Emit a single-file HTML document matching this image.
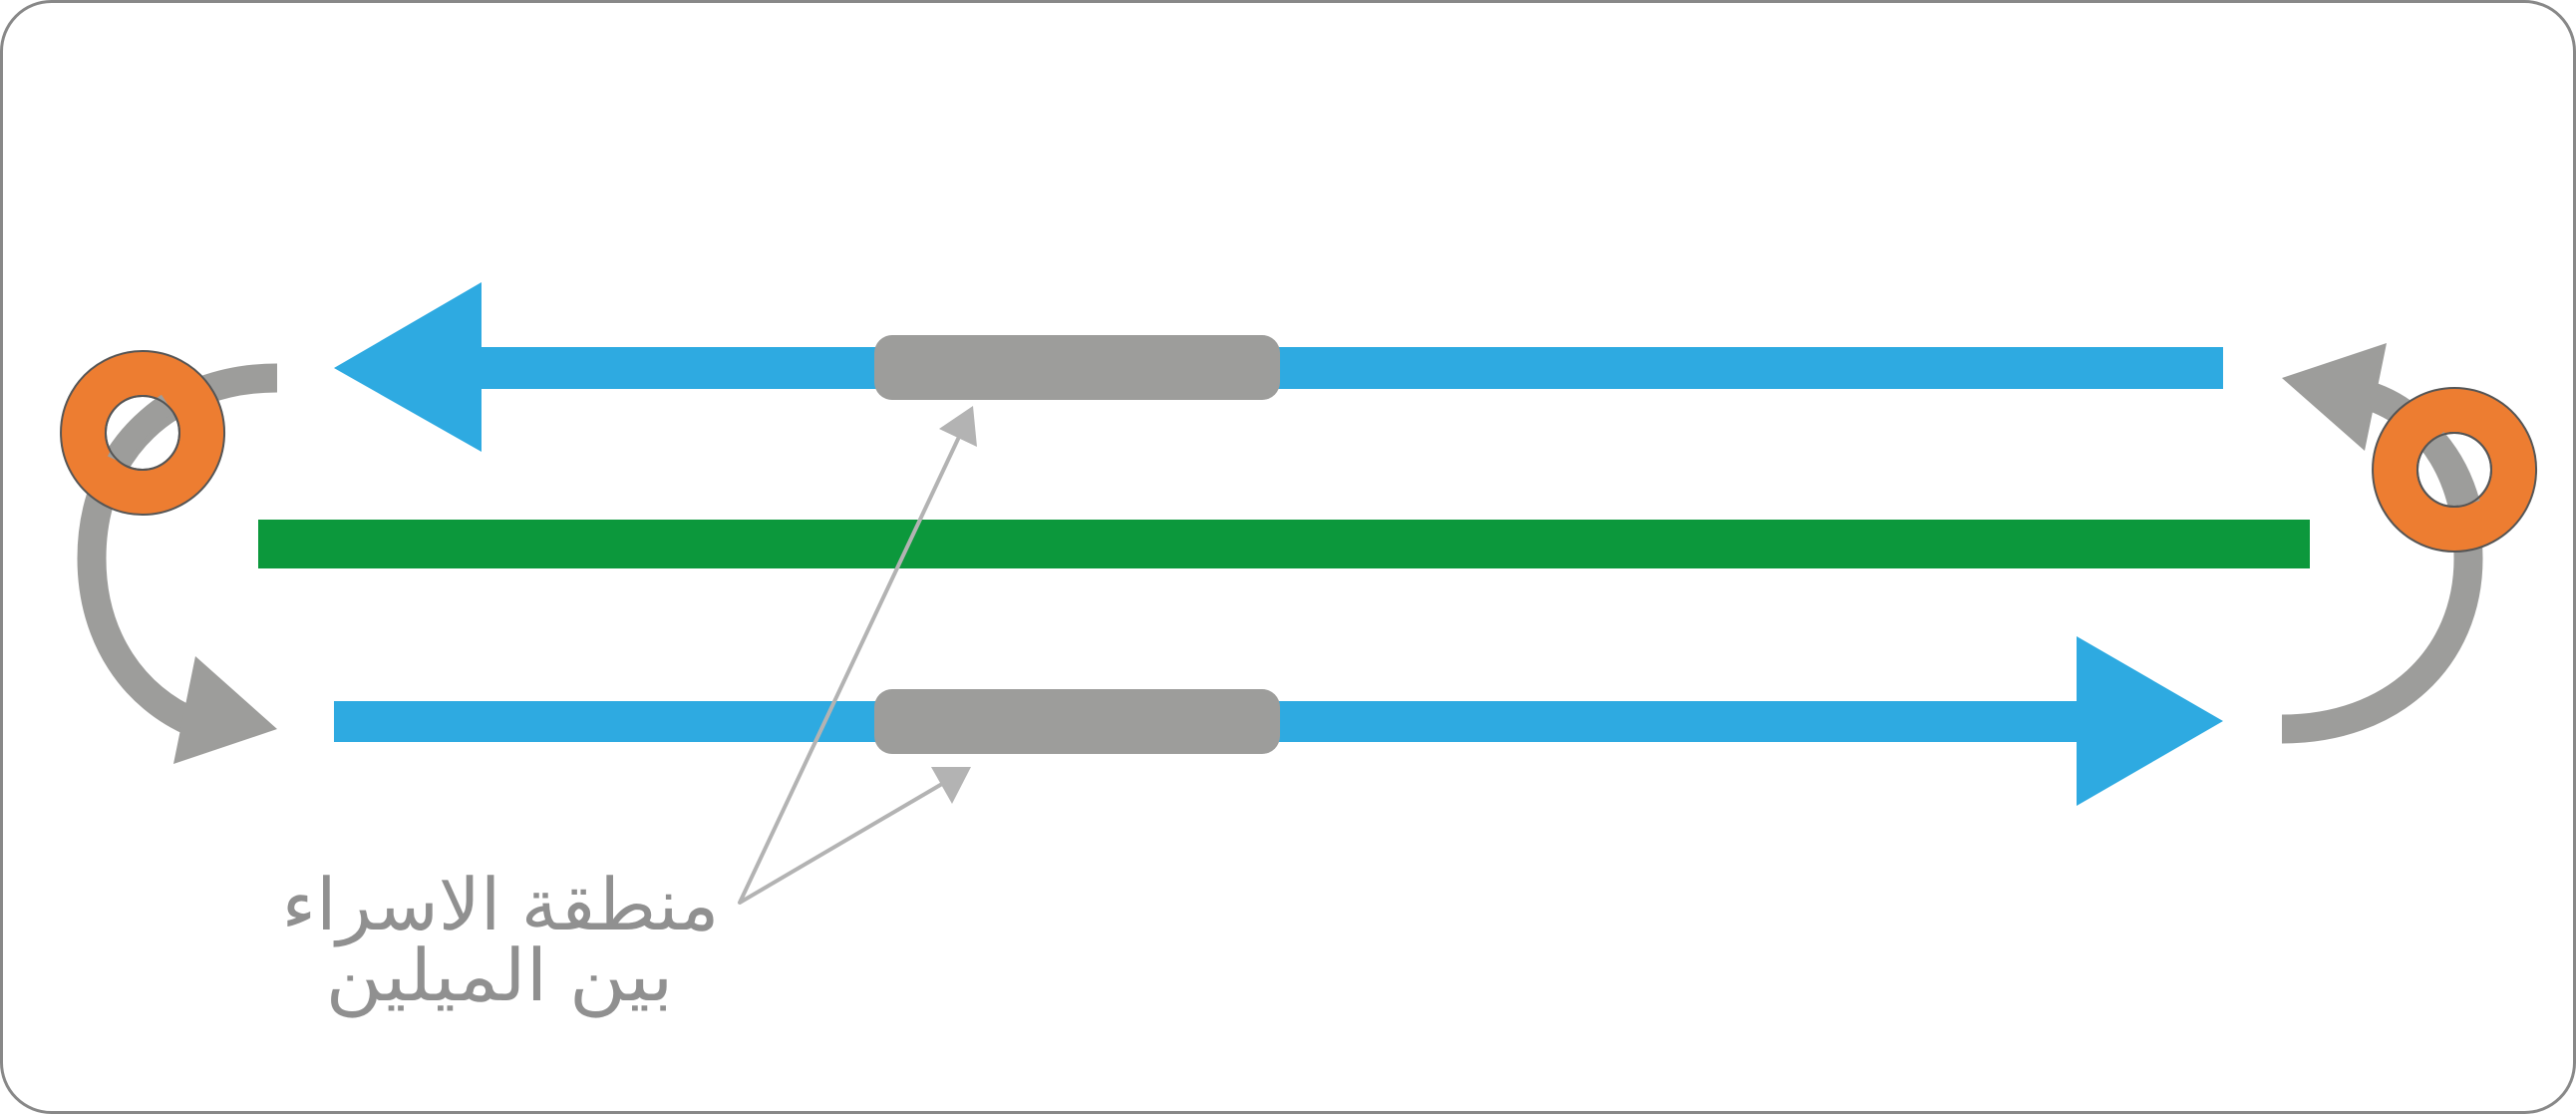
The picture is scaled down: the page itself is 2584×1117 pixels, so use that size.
<!DOCTYPE html>
<html><head><meta charset="utf-8"><style>
html,body{margin:0;padding:0;background:#fff;}
svg{display:block;}
</style></head><body>
<svg width="2584" height="1117" viewBox="0 0 2584 1117" xmlns="http://www.w3.org/2000/svg">
<rect x="1.5" y="1.5" width="2581" height="1114" rx="50" ry="50" fill="#fff" stroke="#888" stroke-width="3"/>
<!-- top blue arrow -->
<rect x="483" y="348" width="1747" height="42" fill="#2eaae1"/>
<polygon points="335,369 483,283 483,453" fill="#2eaae1"/>
<rect x="877" y="336" width="407" height="65" rx="18" fill="#9d9d9b"/>
<!-- green -->
<rect x="259" y="521" width="2058" height="49" fill="#0c983c"/>
<!-- bottom blue arrow -->
<rect x="335" y="703" width="1748" height="41" fill="#2eaae1"/>
<polygon points="2230,723 2083,638 2083,808" fill="#2eaae1"/>
<rect x="877" y="691" width="407" height="65" rx="18" fill="#9d9d9b"/>
<!-- left gray curve -->
<path d="M278,379 C170,379 92,450 92,560 C92,640 135,700 195,725" fill="none" stroke="#9d9d9b" stroke-width="29"/>
<polygon points="196,658 278,731 174,766" fill="#9d9d9b"/>
<!-- right gray curve -->
<path d="M2289,731 C2400,731 2476,660 2476,560 C2476,480 2440,420 2380,398" fill="none" stroke="#9d9d9b" stroke-width="29"/>
<polygon points="2394,344 2289,379 2372,452" fill="#9d9d9b"/>
<!-- rings -->
<path fill-rule="evenodd" d="M143,352 a82,82 0 1,0 0.1,0 Z M143,397 a37,37 0 1,1 -0.1,0 Z" fill="#ed7d31" stroke="#555" stroke-width="2"/>
<path fill="none" d="M118,462 C128,440 145,420 168,405" stroke="#9d9d9b" stroke-width="22"/>
<path fill-rule="evenodd" d="M2462,389 a82,82 0 1,0 0.1,0 Z M2462,434 a37,37 0 1,1 -0.1,0 Z" fill="#ed7d31" stroke="#555" stroke-width="2"/>
<path fill="none" d="M2443,440 C2460,460 2470,480 2477,505" stroke="#9d9d9b" stroke-width="22"/>
<circle cx="143" cy="434" r="37" fill="none" stroke="#555" stroke-width="2"/>
<circle cx="2462" cy="471" r="37" fill="none" stroke="#555" stroke-width="2"/>
<!-- pointers -->
<polyline points="962,438 742,905 945,786" fill="none" stroke="#b3b3b3" stroke-width="4" stroke-linejoin="round"/>
<polygon points="976,407 942,430 980,448" fill="#b3b3b3"/>
<polygon points="934,769 974,769 955,806" fill="#b3b3b3"/>
<!-- text -->
<text x="502" y="932" text-anchor="middle" direction="rtl" font-family="'Liberation Sans','DejaVu Sans',sans-serif" font-size="72" font-weight="200" fill="#909090" textLength="439" lengthAdjust="spacingAndGlyphs">منطقة الاسراء</text>
<text x="501" y="1003" text-anchor="middle" direction="rtl" font-family="'Liberation Sans','DejaVu Sans',sans-serif" font-size="72" font-weight="200" fill="#909090" textLength="349" lengthAdjust="spacingAndGlyphs">بين الميلين</text>
</svg>
</body></html>
